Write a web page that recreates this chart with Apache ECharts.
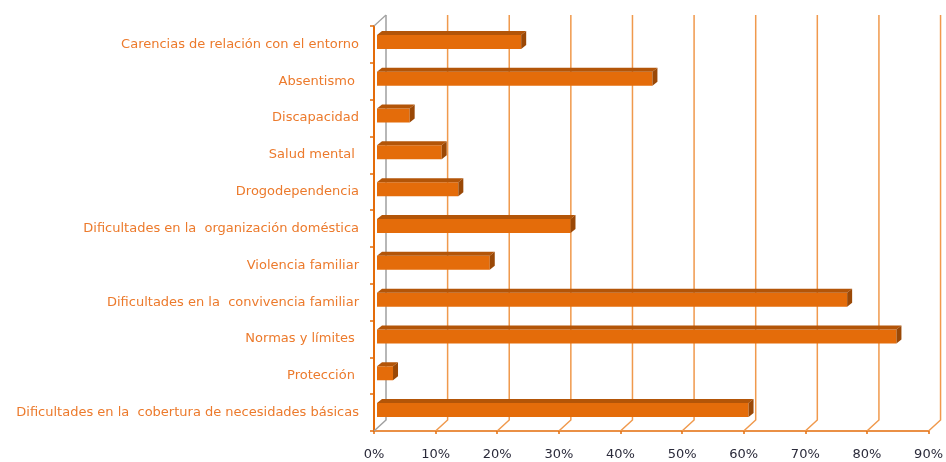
<!DOCTYPE html>
<html>
<head>
<meta charset="utf-8">
<script src="https://cdn.jsdelivr.net/npm/echarts@6/dist/echarts.min.js"></script>
<style>
  html, body { margin: 0; padding: 0; background: #fff; }
  #chart { width: 946px; height: 462px; }
</style>
</head>
<body>
<div id="chart"></div>
<script>
// Problem areas, top to bottom
const categories = [
  'Carencias de relación con el entorno',
  'Absentismo ',
  'Discapacidad',
  'Salud mental ',
  'Drogodependencia',
  'Dificultades en la  organización doméstica',
  'Violencia familiar',
  'Dificultades en la  convivencia familiar',
  'Normas y límites ',
  'Protección ',
  'Dificultades en la  cobertura de necesidades básicas'
];
// Share of cases (%)
const values = [23.4, 44.7, 5.3, 10.5, 13.2, 31.4, 18.3, 76.3, 84.3, 2.6, 60.3];
// Percentage scale
const ticks = [0, 10, 20, 30, 40, 50, 60, 70, 80, 90];

const ORANGE = '#E46C0A';
const GRID_ORANGE = '#F0994C';
const LABEL_ORANGE = '#EC7A2C';
const DEPTH_X = 12, DEPTH_Y = 11;   // wall depth offset
const BAR_DX = 5, BAR_DY = 4;       // bar depth offset

const chart = echarts.init(document.getElementById('chart'));

// Back wall gridlines with floor diagonals
function renderWall(params, api) {
  const cs = params.coordSys;
  const v = api.value(0);
  const p = api.coord([v, 0]);
  const x = p[0];
  const yFront = cs.y + cs.height;
  const xb = x + DEPTH_X, yb = yFront - DEPTH_Y;
  const top = cs.y - DEPTH_Y;
  const col = v === 0 ? '#A0A0A0' : GRID_ORANGE;
  const children = [
    { type: 'polyline', shape: { points: [[x, yFront], [xb, yb], [xb, top]] },
      style: { stroke: col, lineWidth: 1.5, fill: null } }
  ];
  if (v === 0) {
    children.push({ type: 'line', shape: { x1: x, y1: cs.y, x2: xb, y2: top },
      style: { stroke: col, lineWidth: 1.2 } });
  }
  return { type: 'group', children };
}

// 3D-style bars
function renderBar(params, api) {
  const idx = api.value(0);
  const val = api.value(1);
  const a = api.coord([0, idx]);
  const b = api.coord([val, idx]);
  const xl = a[0] + 3, xr = b[0] + 3;
  const cy = a[1] - 2.5;
  const h = 14;
  const yt = cy - h / 2, ybm = cy + h / 2;
  return {
    type: 'group',
    children: [
      { type: 'rect', shape: { x: xl, y: yt, width: xr - xl, height: h },
        style: { fill: ORANGE } },
      { type: 'polygon', shape: { points: [[xl, yt], [xr, yt], [xr + BAR_DX, yt - BAR_DY], [xl + BAR_DX, yt - BAR_DY]] },
        style: { fill: '#B35508' } },
      { type: 'polygon', shape: { points: [[xr, yt], [xr + BAR_DX, yt - BAR_DY], [xr + BAR_DX, ybm - BAR_DY], [xr, ybm]] },
        style: { fill: '#9A4806' } }
    ]
  };
}

chart.setOption({
  animation: false,
  backgroundColor: '#fff',
  grid: { left: 374, right: 14, top: 26, bottom: 31 },
  xAxis: {
    type: 'value', min: 0, max: 90, interval: 10,
    axisLine: { show: true, lineStyle: { color: ORANGE, width: 1.5 } },
    axisTick: { show: true, length: 3, lineStyle: { color: ORANGE, width: 1.5 } },
    splitLine: { show: false },
    axisLabel: { formatter: '{value}%', color: '#2a2a3a', fontSize: 13, margin: 17,
      fontFamily: 'DejaVu Sans' }
  },
  yAxis: {
    type: 'category', data: categories, inverse: true,
    axisLine: { show: true, lineStyle: { color: ORANGE, width: 2 } },
    axisTick: { show: true, length: 4, lineStyle: { color: ORANGE, width: 1.5 } },
    axisLabel: { color: LABEL_ORANGE, fontSize: 13, margin: 15, fontFamily: 'DejaVu Sans' }
  },
  series: [
    { type: 'custom', renderItem: renderWall, data: ticks.map(t => [t]), z: 1, silent: true },
    { type: 'custom', renderItem: renderBar, data: values.map((v, i) => [i, v]), z: 3,
      encode: { x: 1, y: 0 } }
  ]
});
</script>
</body>
</html>
